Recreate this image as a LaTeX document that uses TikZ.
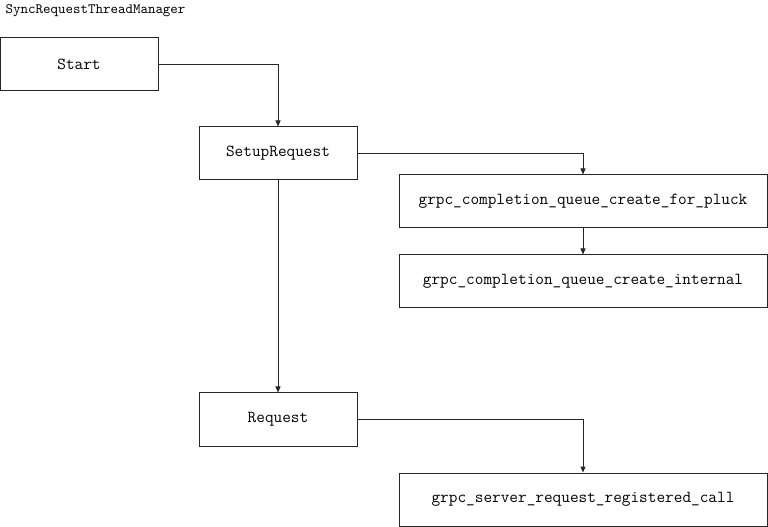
\documentclass[tikz,border=0pt]{standalone}
\usetikzlibrary{arrows.meta}

\begin{document}
\begin{tikzpicture}[x=0.75pt,y=-0.75pt,
  box/.style={draw=black!85, line width=0.75pt, inner sep=0pt,
    minimum height=39.75pt, font=\ttfamily\fontsize{12.6}{15}\selectfont},
  narrowbox/.style={box, minimum width=118.5pt},
  widebox/.style={box, minimum width=276pt},
  flow/.style={draw=black!85, line width=0.75pt, -{Triangle[length=4.5pt,width=3.75pt]}}]
  \useasboundingbox (0,0) rectangle (768,527);
  \node[anchor=west, font=\ttfamily\fontsize{10.7}{13}\selectfont] (title) at (1,11) {SyncRequestThreadManager};
  \node[narrowbox] (start) at (79,64.5) {Start};
  \node[narrowbox] (setup) at (278,153.5) {SetupRequest};
  \node[widebox] (pluck) at (583,201.5) {grpc\_completion\_queue\_create\_for\_pluck};
  \node[widebox] (internal) at (583,281.5) {grpc\_completion\_queue\_create\_internal};
  \node[narrowbox] (request) at (278,419.5) {Request};
  \node[widebox] (regcall) at (583,499.5) {grpc\_server\_request\_registered\_call};
  \draw[flow] (start.east) -| (setup.north);
  \draw[flow] (setup.east) -| (pluck.north);
  \draw[flow] (pluck) -- (internal);
  \draw[flow] (setup) -- (request);
  \draw[flow] (request.east) -| (regcall.north);
\end{tikzpicture}
\end{document}
